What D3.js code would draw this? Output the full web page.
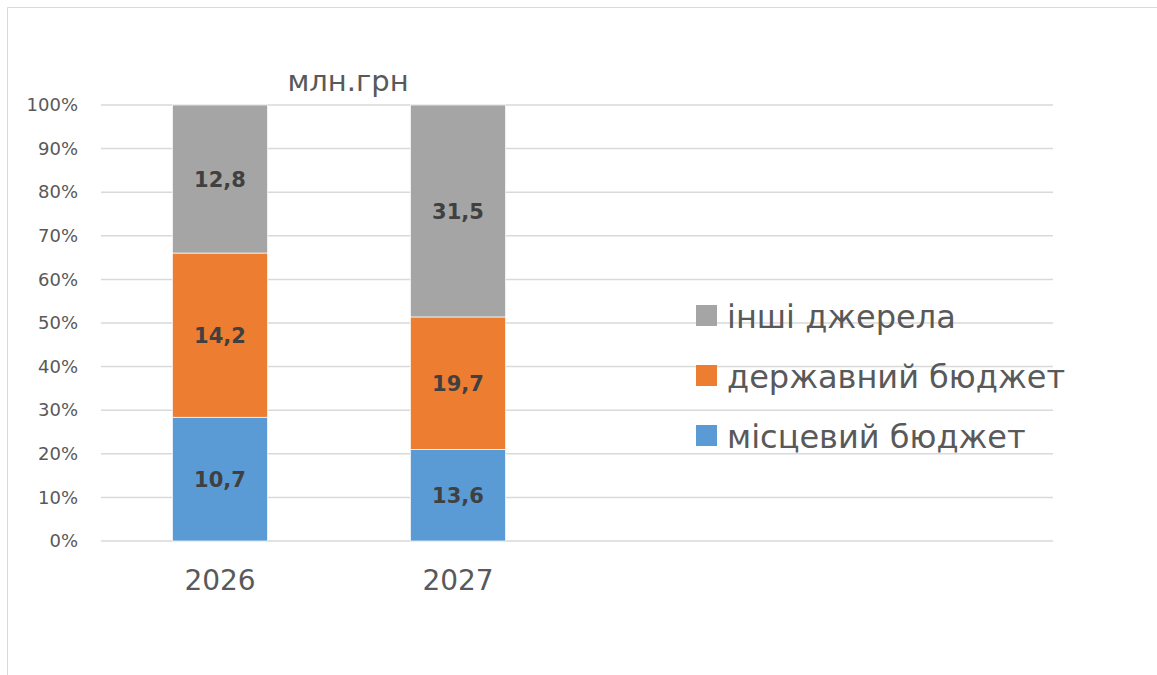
<!DOCTYPE html>
<html>
    <head>
        <meta charset="utf-8">
        <title>млн.грн</title>
        <script src="https://d3js.org/d3.v7.min.js"></script>
        <style>
            body { margin: 0; background: #fff; }
            text { font-family: "DejaVu Sans", Verdana, sans-serif; }
        </style>
    </head>
    <body>
        <svg width="1157" height="675"></svg>
        <script>
            // дані
            const years = ["2026", "2027"];
            const seriesNames = ["місцевий бюджет", "державний бюджет", "інші джерела"];
            const localBudget = [10.7, 13.6];
            const stateBudget = [14.2, 19.7];
            const otherSources = [12.8, 31.5];
            const colors = ["#5b9bd5", "#ed7d31", "#a5a5a5"];
            const yTicks = [0, 0.1, 0.2, 0.3, 0.4, 0.5, 0.6, 0.7, 0.8, 0.9, 1];

            const rows = years.map((y, i) => ({
                year: y,
                "місцевий бюджет": localBudget[i],
                "державний бюджет": stateBudget[i],
                "інші джерела": otherSources[i],
            }));

            const svg = d3.select("svg");

            // рамка
            svg.append("path")
                .attr("d", "M7.5,675 V7.5 H1157")
                .attr("fill", "none")
                .attr("stroke", "#d9d9d9")
                .attr("stroke-width", 1);

            const x = d3.scaleBand().domain(years).range([101, 577])
                .paddingInner(0.6).paddingOuter(0.3);
            const y = d3.scaleLinear().domain([0, 1]).range([541, 105]);

            // сітка
            svg.append("g")
                .selectAll("line")
                .data(yTicks)
                .join("line")
                .attr("x1", 101)
                .attr("x2", 1053)
                .attr("y1", (d) => y(d))
                .attr("y2", (d) => y(d))
                .attr("stroke", "#d9d9d9")
                .attr("stroke-width", 1.5);

            // вісь Y
            const yAxis = svg.append("g")
                .attr("transform", "translate(101,0)")
                .call(d3.axisLeft(y).tickValues(yTicks).tickFormat(d3.format(".0%")).tickSize(0).tickPadding(23));
            yAxis.select(".domain").remove();
            yAxis.selectAll("text")
                .attr("fill", "#595959")
                .style("font-size", "18px");

            // вісь X
            const xAxis = svg.append("g")
                .attr("transform", "translate(0,541)")
                .call(d3.axisBottom(x).tickSize(0).tickPadding(29));
            xAxis.select(".domain").remove();
            xAxis.selectAll("text")
                .attr("fill", "#595959")
                .style("font-size", "28px");

            // стовпці
            const stack = d3.stack().keys(seriesNames).offset(d3.stackOffsetExpand);
            const series = stack(rows);

            const layer = svg.append("g")
                .selectAll("g")
                .data(series)
                .join("g")
                .attr("fill", (d, i) => colors[i]);

            layer.selectAll("rect")
                .data((d) => d)
                .join("rect")
                .attr("x", (d) => x(d.data.year))
                .attr("width", x.bandwidth())
                .attr("y", (d) => y(d[1]))
                .attr("height", (d) => y(d[0]) - y(d[1]))
                .attr("stroke", "#fff")
                .attr("stroke-width", 0.7);

            // підписи значень
            layer.selectAll("text")
                .data((d) => d.map((v) => ({ v, key: d.key })))
                .join("text")
                .attr("x", (d) => x(d.v.data.year) + x.bandwidth() / 2)
                .attr("y", (d) => (y(d.v[0]) + y(d.v[1])) / 2)
                .attr("dy", "0.36em")
                .attr("text-anchor", "middle")
                .attr("fill", "#404040")
                .style("font-size", "21px")
                .style("font-weight", "bold")
                .text((d) => d3.format(".1f")(d.v.data[d.key]).replace(".", ","));

            // заголовок
            svg.append("text")
                .attr("x", 348)
                .attr("y", 91)
                .attr("text-anchor", "middle")
                .attr("fill", "#595959")
                .style("font-size", "29px")
                .text("млн.грн");

            // легенда
            const legendItems = seriesNames.slice().reverse();
            const legend = svg.append("g")
                .selectAll("g")
                .data(legendItems)
                .join("g")
                .attr("transform", (d, i) => `translate(696,${315 + i * 60})`);
            legend.append("rect")
                .attr("y", -10)
                .attr("width", 21)
                .attr("height", 21)
                .attr("fill", (d) => colors[seriesNames.indexOf(d)]);
            legend.append("text")
                .attr("x", 31)
                .attr("y", 13)
                .attr("fill", "#595959")
                .style("font-size", "32px")
                .text((d) => d);
        </script>
    </body>
</html>
